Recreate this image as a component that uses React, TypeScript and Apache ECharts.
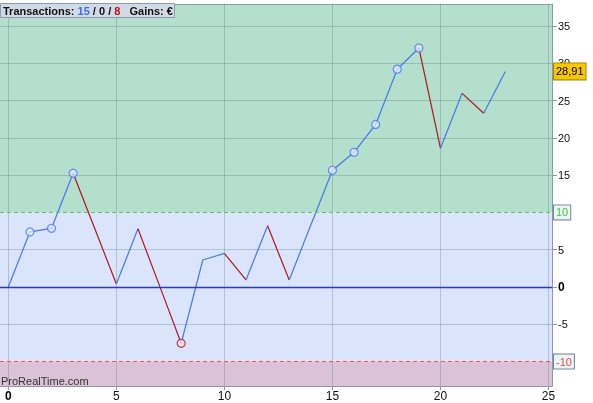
import React, { useEffect, useRef } from "react";
import * as echarts from "echarts";

const equity = [0, 7.38, 7.87, 15.25, 7.85, 0.4, 7.8, 0.15, -7.55, 3.62, 4.5, 0.94, 8.2, 0.94, 8.3, 15.65, 18.06, 21.8, 29.2, 32.05, 18.6, 25.97, 23.3, 28.91];
const highIdx = [1, 2, 3, 15, 16, 17, 18, 19];
const lowIdx = [8];
const xTicks = [0, 5, 10, 15, 20, 25];
const yTicks = [-10, -5, 0, 5, 10, 15, 20, 25, 30, 35];
const yLabels = [-5, 0, 5, 15, 20, 25, 30, 35];
const yGrid = [-5, 5, 15, 20, 25, 30, 35];
const upperZone = 10;
const lowerZone = -10;
const lastValue = 28.91;
const lastLabel = "28,91";
const winCount = 15;
const evenCount = 0;
const lossCount = 8;

const X_MIN = -0.384;
const X_MAX = 25.16;
const Y_MIN = -13.28;
const Y_MAX = 37.95;

const BLUE = "#4a76ee";
const RED = "#b0141c";
const FONT = "Liberation Sans, Arial";

export default function App() {
  const ref = useRef<HTMLDivElement>(null);
  useEffect(() => {
    if (!ref.current) return;
    const chart = echarts.init(ref.current, undefined, { renderer: "svg" });

    const runs: { up: boolean; pts: number[][] }[] = [];
    for (let i = 0; i < equity.length - 1; i++) {
      const up = equity[i + 1] >= equity[i];
      const last = runs[runs.length - 1];
      if (last && last.up === up) {
        last.pts.push([i + 1, equity[i + 1]]);
      } else {
        runs.push({ up, pts: [[i, equity[i]], [i + 1, equity[i + 1]]] });
      }
    }
    const lineSeries = runs.map((r) => ({
      type: "line",
      data: r.pts,
      showSymbol: false,
      symbol: "none",
      silent: true,
      z: 4,
      lineStyle: { color: r.up ? BLUE : RED, width: 1.2 },
    }));

    const gridLineStyle = { color: "rgba(80,100,120,0.28)", width: 1, type: "solid" };
    const boxLabel = (color: string, text: string) => ({
      show: true,
      position: "end",
      distance: 2,
      formatter: text,
      color,
      fontSize: 11,
      fontFamily: FONT,
      backgroundColor: "#eef3f6",
      borderColor: "#6f8797",
      borderWidth: 1,
      padding: [2, 2, 1, 2],
    });

    const option: any = {
      animation: false,
      textStyle: { fontFamily: FONT },
      title: {
        left: 0,
        top: 3,
        padding: [2, 2, 2, 3],
        backgroundColor: "#d2dbe5",
        borderColor: "#8b9cb0",
        borderWidth: 1,
        text:
          "{a|Transactions: }{b|" + winCount + "}{a| / " + evenCount + " / }{c|" + lossCount + "}{a|   Gains: €}",
        textStyle: {
          rich: {
            a: { fontSize: 11, fontWeight: "bold", color: "#111", fontFamily: FONT },
            b: { fontSize: 11, fontWeight: "bold", color: "#3a6ff0", fontFamily: FONT },
            c: { fontSize: 11, fontWeight: "bold", color: "#c01010", fontFamily: FONT },
          },
        },
      },
      grid: { left: 0, right: 41, top: 4, bottom: 17, containLabel: false },
      xAxis: {
        type: "value",
        min: X_MIN,
        max: X_MAX,
        axisLine: { show: true, onZero: false, lineStyle: { color: "#8799ab" } },
        axisTick: { show: true, length: 4, customValues: xTicks, lineStyle: { color: "#8799ab" } },
        axisLabel: {
          customValues: xTicks,
          margin: 4,
          fontSize: 12,
          color: "#111",
          formatter: (v: number) => (v === 0 ? "{b|0}" : String(v)),
          rich: { b: { fontWeight: "bold", fontSize: 12, color: "#000" } },
        },
        splitLine: { show: false },
      },
      yAxis: {
        type: "value",
        position: "right",
        min: Y_MIN,
        max: Y_MAX,
        axisLine: { show: true, onZero: false, lineStyle: { color: "#8799ab" } },
        axisTick: { show: true, length: 5, customValues: yTicks, lineStyle: { color: "#8799ab" } },
        axisLabel: {
          customValues: yLabels,
          margin: 6,
          fontSize: 11,
          color: "#111",
          formatter: (v: number) => (v === 0 ? "{b|0}" : String(v)),
          rich: { b: { fontWeight: "bold", fontSize: 12, color: "#000" } },
        },
        splitLine: { show: false },
      },
      graphic: [
        {
          type: "text",
          left: 1,
          top: 375,
          z: 10,
          style: { text: "ProRealTime.com", fontSize: 11, fill: "#333", fontFamily: FONT },
        },
      ],
      series: [
        {
          type: "line",
          data: [[0, 0]],
          symbol: "none",
          lineStyle: { opacity: 0 },
          silent: true,
          z: 1,
          markArea: {
            silent: true,
            data: [
              [{ yAxis: upperZone, itemStyle: { color: "#b3dfcc" } }, { yAxis: Y_MAX }],
              [{ yAxis: lowerZone, itemStyle: { color: "#dae5fc" } }, { yAxis: upperZone }],
              [{ yAxis: Y_MIN, itemStyle: { color: "#dbc2d6" } }, { yAxis: lowerZone }],
            ],
          },
          markLine: {
            silent: true,
            symbol: "none",
            animation: false,
            label: { show: false },
            lineStyle: gridLineStyle,
            data: [
              ...xTicks.map((v) => ({ xAxis: v })),
              ...yGrid.map((v) => ({ yAxis: v })),
              { yAxis: Y_MAX, lineStyle: { color: "rgba(80,120,100,0.5)", type: "solid" } },
              { yAxis: 0, lineStyle: { color: "#2a36c4", width: 1.3, type: "solid" } },
              {
                yAxis: upperZone,
                lineStyle: { color: "#5cc45c", width: 1, type: [4, 3] },
                label: boxLabel("#3ec83e", String(upperZone)),
              },
              {
                yAxis: lowerZone,
                lineStyle: { color: "#ee5555", width: 1, type: [4, 3] },
                label: boxLabel("#e05050", String(lowerZone)),
              },
            ],
          },
        },
        {
          type: "line",
          data: [[0, 0]],
          symbol: "none",
          lineStyle: { opacity: 0 },
          silent: true,
          z: 8,
          markLine: {
            silent: true,
            symbol: "none",
            animation: false,
            z: 8,
            data: [
              {
                yAxis: lastValue,
                lineStyle: { color: "rgba(0,0,0,0)", width: 1 },
                label: {
                  show: true,
                  position: "end",
                  distance: 2,
                  formatter: lastLabel,
                  color: "#000",
                  fontSize: 11,
                  fontFamily: FONT,
                  backgroundColor: "#f5c800",
                  borderColor: "#a68400",
                  borderWidth: 1,
                  padding: [3, 2, 2, 2],
                },
              },
            ],
          },
        },
        ...lineSeries,
        {
          type: "scatter",
          data: highIdx.map((i) => [i, equity[i]]),
          symbol: "circle",
          symbolSize: 8,
          silent: true,
          z: 5,
          itemStyle: { color: "#dce7ff", borderColor: BLUE, borderWidth: 1.2 },
        },
        {
          type: "scatter",
          data: lowIdx.map((i) => [i, equity[i]]),
          symbol: "circle",
          symbolSize: 8,
          silent: true,
          z: 5,
          itemStyle: { color: "#f0e0f0", borderColor: RED, borderWidth: 1.2 },
        },
      ],
    };
    chart.setOption(option);
    return () => chart.dispose();
  }, []);
  return (
    <div
      ref={ref}
      style={{ position: "fixed", left: 0, top: 0, width: 593, height: 403 }}
    />
  );
}
